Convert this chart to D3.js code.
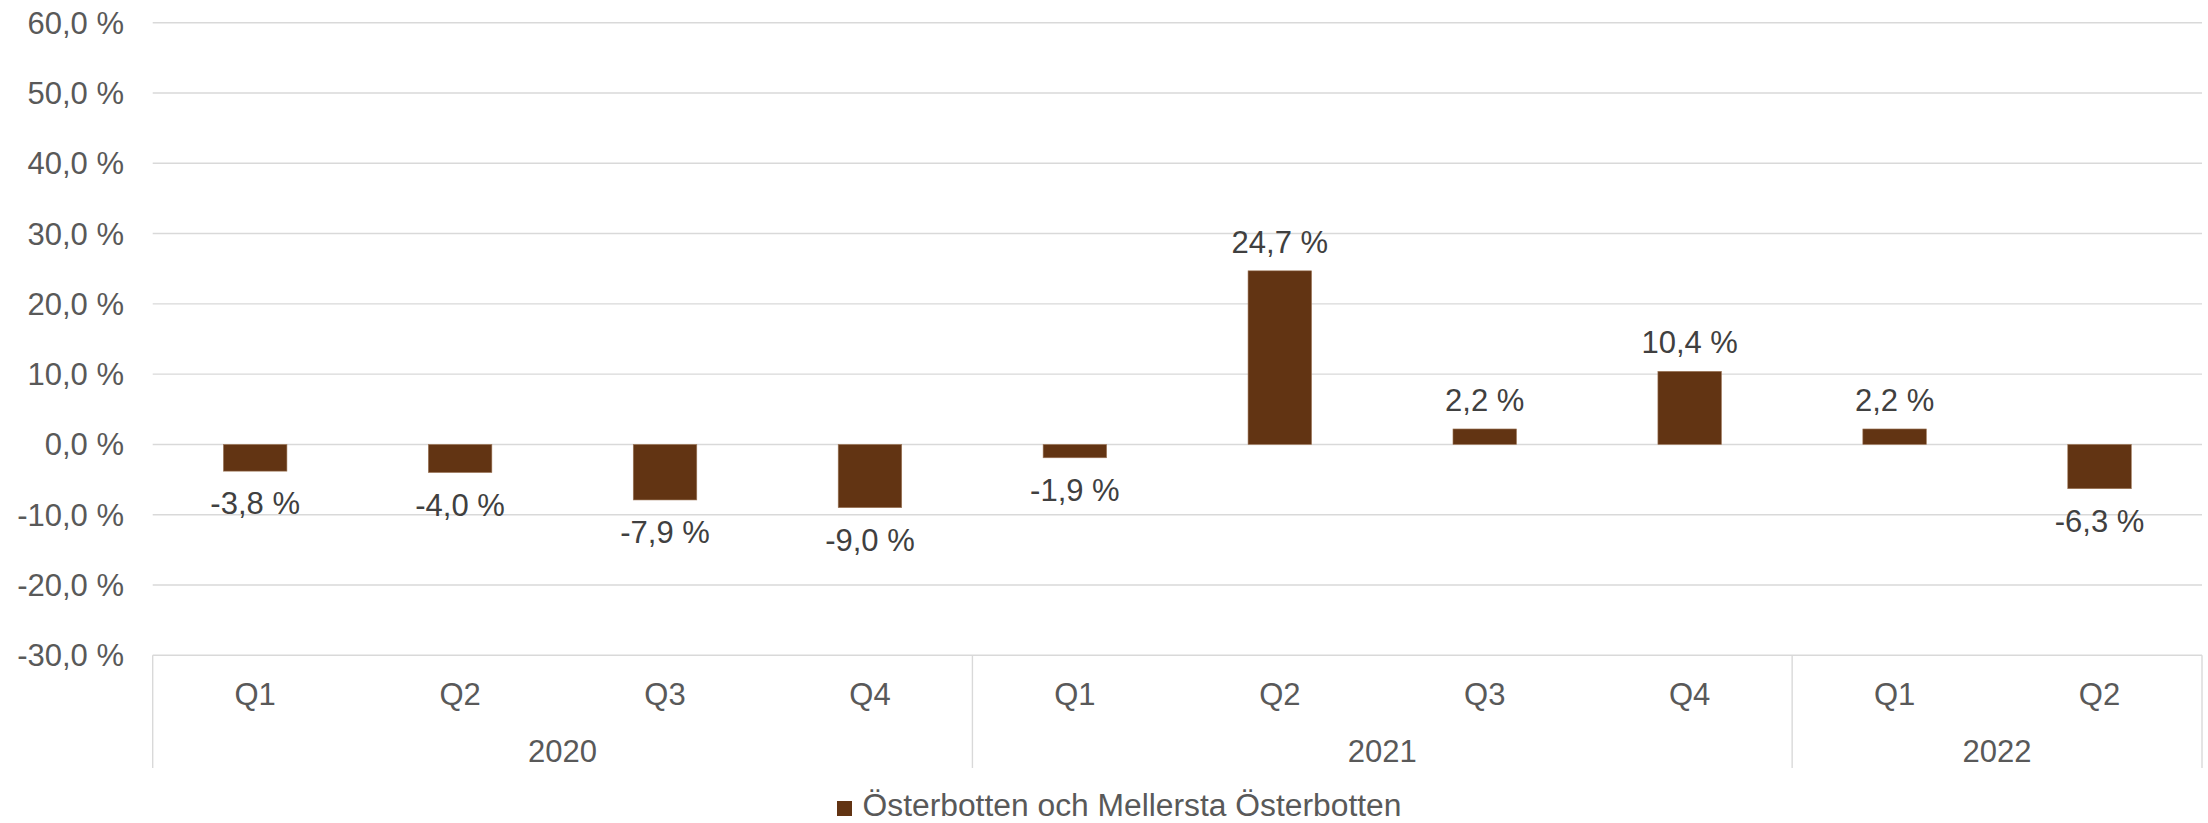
<!DOCTYPE html>
<html>
<head>
<meta charset="utf-8">
<script src="https://cdn.jsdelivr.net/npm/d3@7"></script>
<style>
  html, body { margin: 0; padding: 0; background: #fff; }
  svg { display: block; font-family: "Liberation Sans", Arial, sans-serif; }
</style>
</head>
<body>
<svg id="chart" width="2208" height="823"></svg>
<script>
// Quarterly change, Österbotten och Mellersta Österbotten
const quarters = ["Q1", "Q2", "Q3", "Q4", "Q1", "Q2", "Q3", "Q4", "Q1", "Q2"];
const years = ["2020", "2020", "2020", "2020", "2021", "2021", "2021", "2021", "2022", "2022"];
const values = [-3.8, -4.0, -7.9, -9.0, -1.9, 24.7, 2.2, 10.4, 2.2, -6.3];
const yTicks = [-30, -20, -10, 0, 10, 20, 30, 40, 50, 60];
const seriesName = "Österbotten och Mellersta Österbotten";

const plot = { left: 152.7, right: 2202, top: 22.7, bottom: 655.3 };
const barColor = "#623413";
const gridColor = "#d9d9d9";
const axisText = "#595959";
const labelText = "#404040";
const fontSize = 31;

const locale = d3.formatLocale({ decimal: ",", thousands: " ", grouping: [3], currency: ["", ""], minus: "-" });
const fmtTick = v => locale.format(".1f")(v) + " %";

const svg = d3.select("#chart");

const idx = d3.range(values.length);
const x = d3.scaleBand().domain(idx).range([plot.left, plot.right]).paddingInner(0.69).paddingOuter(0.345);
const y = d3.scaleLinear().domain([-30, 60]).range([plot.bottom, plot.top]);

// gridlines
svg.append("g").selectAll("line").data(yTicks).join("line")
  .attr("x1", plot.left).attr("x2", plot.right)
  .attr("y1", d => y(d)).attr("y2", d => y(d))
  .attr("stroke", gridColor).attr("stroke-width", 1.4);

// y tick labels
svg.append("g").selectAll("text").data(yTicks).join("text")
  .attr("x", 124).attr("y", d => y(d) + 11)
  .attr("text-anchor", "end")
  .attr("font-size", fontSize).attr("fill", axisText)
  .text(fmtTick);

// bars
svg.append("g").selectAll("rect").data(idx).join("rect")
  .attr("x", i => x(i))
  .attr("width", x.bandwidth())
  .attr("y", i => y(Math.max(0, values[i])))
  .attr("height", i => Math.abs(y(values[i]) - y(0)))
  .attr("fill", barColor)
  .attr("stroke", "#a07a5c").attr("stroke-width", 0.6);

// data labels
svg.append("g").selectAll("text").data(idx).join("text")
  .attr("x", i => x(i) + x.bandwidth() / 2)
  .attr("y", i => values[i] >= 0 ? y(values[i]) - 18 : y(values[i]) + 43)
  .attr("text-anchor", "middle")
  .attr("font-size", fontSize).attr("fill", labelText)
  .text(i => fmtTick(values[i]));

// category axis: quarter labels
const step = x.step();
const catAxis = svg.append("g");
catAxis.selectAll("text.q").data(idx).join("text")
  .attr("class", "q")
  .attr("x", i => x(i) + x.bandwidth() / 2)
  .attr("y", 705)
  .attr("text-anchor", "middle")
  .attr("font-size", fontSize).attr("fill", axisText)
  .text(i => quarters[i]);

// year groups
const groups = [];
years.forEach((yr, i) => {
  const g = groups[groups.length - 1];
  if (g && g.year === yr) g.end = i; else groups.push({ year: yr, start: i, end: i });
});
const bandLeft = i => plot.left + i * step;
catAxis.selectAll("text.yr").data(groups).join("text")
  .attr("class", "yr")
  .attr("x", g => (bandLeft(g.start) + bandLeft(g.end + 1)) / 2)
  .attr("y", 762)
  .attr("text-anchor", "middle")
  .attr("font-size", fontSize).attr("fill", axisText)
  .text(g => g.year);

// group separators
const seps = [0, ...groups.map(g => g.end + 1)];
catAxis.selectAll("line").data(seps).join("line")
  .attr("x1", i => bandLeft(i)).attr("x2", i => bandLeft(i))
  .attr("y1", plot.bottom).attr("y2", 768)
  .attr("stroke", gridColor).attr("stroke-width", 1.4);

// legend
const legend = svg.append("g");
legend.append("rect")
  .attr("x", 837).attr("y", 801).attr("width", 15).attr("height", 15)
  .attr("fill", barColor);
legend.append("text")
  .attr("x", 862.5).attr("y", 816)
  .attr("font-size", fontSize).attr("fill", axisText)
  .attr("textLength", 539).attr("lengthAdjust", "spacingAndGlyphs")
  .text(seriesName);
</script>
</body>
</html>
